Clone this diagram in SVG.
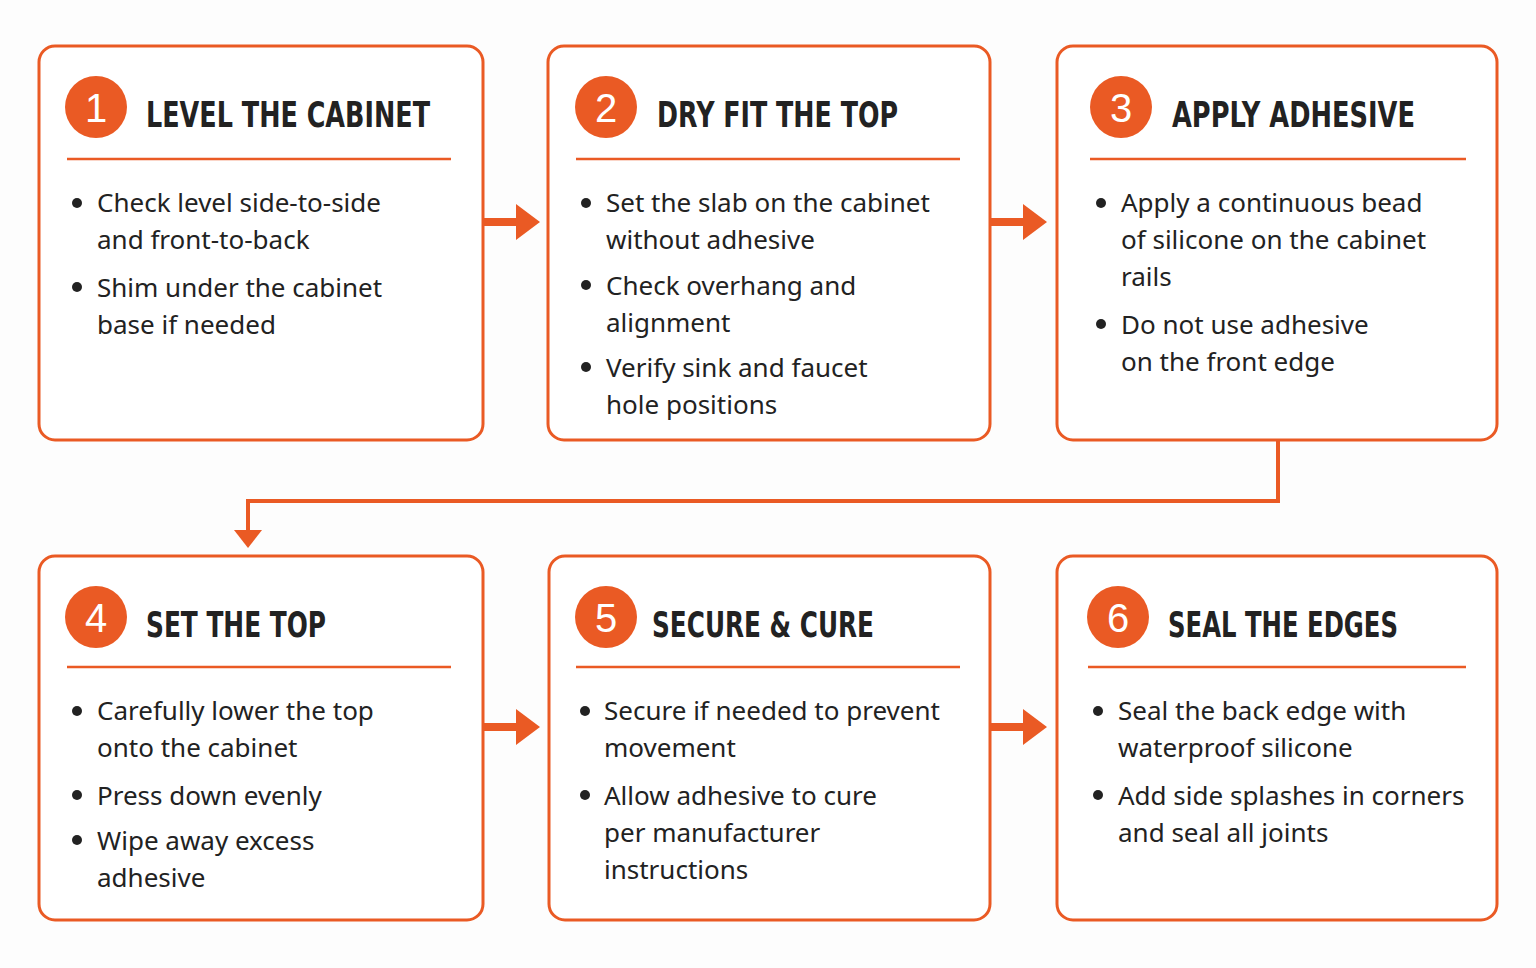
<svg xmlns="http://www.w3.org/2000/svg" width="1536" height="968" viewBox="0 0 1536 968">
<style>
.box{fill:#fff;stroke:#ea5a24;stroke-width:3}
.num{fill:#ea5a24}
.nt{font-family:"Liberation Sans",sans-serif;font-size:40px;fill:#fff;text-anchor:middle}
.tt{font-family:"DejaVu Sans",sans-serif;font-weight:bold;font-size:36px;fill:#222}
.dv{stroke:#ea5a24;stroke-width:2.5}
.bt{font-family:"Noto Sans",sans-serif;font-size:26px;fill:#222}
.dot{fill:#222}
.con{stroke:#ea5a24;fill:none;stroke-width:4}
.ar{fill:#ea5a24}
</style>
<rect width="1536" height="968" fill="#fdfdfd"/>
<g id="connectors">
<path class="ar" d="M484 218H516V204L540 222L516 240V226H484Z"/>
<path class="ar" d="M991 218H1023V204L1047 222L1023 240V226H991Z"/>
<path class="ar" d="M484 723H516V709L540 727L516 745V731H484Z"/>
<path class="ar" d="M991 723H1023V709L1047 727L1023 745V731H991Z"/>
<path class="con" d="M1278 441V501H248V532"/>
<path class="ar" d="M234 530H262L248 548Z"/>
</g>
<g id="n1"><rect class="box" x="39" y="46" width="444" height="394" rx="16"/><circle class="num" cx="96" cy="107" r="31"/><text class="nt" x="96" y="122">1</text><text class="tt" x="146" y="127" textLength="284" lengthAdjust="spacingAndGlyphs">LEVEL THE CABINET</text><line class="dv" x1="67" y1="159" x2="451" y2="159"/>
<circle class="dot" cx="77" cy="203" r="5"/><text class="bt" x="97" y="212">Check level side-to-side</text><text class="bt" x="97" y="249">and front-to-back</text>
<circle class="dot" cx="77" cy="287" r="5"/><text class="bt" x="97" y="297">Shim under the cabinet</text><text class="bt" x="97" y="334">base if needed</text></g>
<g id="n2"><rect class="box" x="548" y="46" width="442" height="394" rx="16"/><circle class="num" cx="606" cy="107" r="31"/><text class="nt" x="606" y="122">2</text><text class="tt" x="657" y="127" textLength="241" lengthAdjust="spacingAndGlyphs">DRY FIT THE TOP</text><line class="dv" x1="576" y1="159" x2="960" y2="159"/>
<circle class="dot" cx="586" cy="203" r="5"/><text class="bt" x="606" y="212">Set the slab on the cabinet</text><text class="bt" x="606" y="249">without adhesive</text>
<circle class="dot" cx="586" cy="285" r="5"/><text class="bt" x="606" y="295">Check overhang and</text><text class="bt" x="606" y="332">alignment</text>
<circle class="dot" cx="586" cy="367" r="5"/><text class="bt" x="606" y="377">Verify sink and faucet</text><text class="bt" x="606" y="414">hole positions</text></g>
<g id="n3"><rect class="box" x="1057" y="46" width="440" height="394" rx="16"/><circle class="num" cx="1121" cy="107" r="31"/><text class="nt" x="1121" y="122">3</text><text class="tt" x="1172" y="127" textLength="243" lengthAdjust="spacingAndGlyphs">APPLY ADHESIVE</text><line class="dv" x1="1090" y1="159" x2="1466" y2="159"/>
<circle class="dot" cx="1101" cy="203" r="5"/><text class="bt" x="1121" y="212">Apply a continuous bead</text><text class="bt" x="1121" y="249">of silicone on the cabinet</text><text class="bt" x="1121" y="286">rails</text>
<circle class="dot" cx="1101" cy="324" r="5"/><text class="bt" x="1121" y="334">Do not use adhesive</text><text class="bt" x="1121" y="371">on the front edge</text></g>
<g id="n4"><rect class="box" x="39" y="556" width="444" height="364" rx="16"/><circle class="num" cx="96" cy="617" r="31"/><text class="nt" x="96" y="632">4</text><text class="tt" x="146" y="637" textLength="180" lengthAdjust="spacingAndGlyphs">SET THE TOP</text><line class="dv" x1="67" y1="667" x2="451" y2="667"/>
<circle class="dot" cx="77" cy="711" r="5"/><text class="bt" x="97" y="720">Carefully lower the top</text><text class="bt" x="97" y="757">onto the cabinet</text>
<circle class="dot" cx="77" cy="795" r="5"/><text class="bt" x="97" y="805">Press down evenly</text>
<circle class="dot" cx="77" cy="840" r="5"/><text class="bt" x="97" y="850">Wipe away excess</text><text class="bt" x="97" y="887">adhesive</text></g>
<g id="n5"><rect class="box" x="549" y="556" width="441" height="364" rx="16"/><circle class="num" cx="606" cy="617" r="31"/><text class="nt" x="606" y="632">5</text><text class="tt" x="652" y="637" textLength="222" lengthAdjust="spacingAndGlyphs">SECURE &amp; CURE</text><line class="dv" x1="576" y1="667" x2="960" y2="667"/>
<circle class="dot" cx="585" cy="711" r="5"/><text class="bt" x="604" y="720">Secure if needed to prevent</text><text class="bt" x="604" y="757">movement</text>
<circle class="dot" cx="585" cy="795" r="5"/><text class="bt" x="604" y="805">Allow adhesive to cure</text><text class="bt" x="604" y="842">per manufacturer</text><text class="bt" x="604" y="879">instructions</text></g>
<g id="n6"><rect class="box" x="1057" y="556" width="440" height="364" rx="16"/><circle class="num" cx="1118" cy="617" r="31"/><text class="nt" x="1118" y="632">6</text><text class="tt" x="1168" y="637" textLength="230" lengthAdjust="spacingAndGlyphs">SEAL THE EDGES</text><line class="dv" x1="1088" y1="667" x2="1466" y2="667"/>
<circle class="dot" cx="1098" cy="711" r="5"/><text class="bt" x="1118" y="720">Seal the back edge with</text><text class="bt" x="1118" y="757">waterproof silicone</text>
<circle class="dot" cx="1098" cy="795" r="5"/><text class="bt" x="1118" y="805">Add side splashes in corners</text><text class="bt" x="1118" y="842">and seal all joints</text></g>
</svg>
